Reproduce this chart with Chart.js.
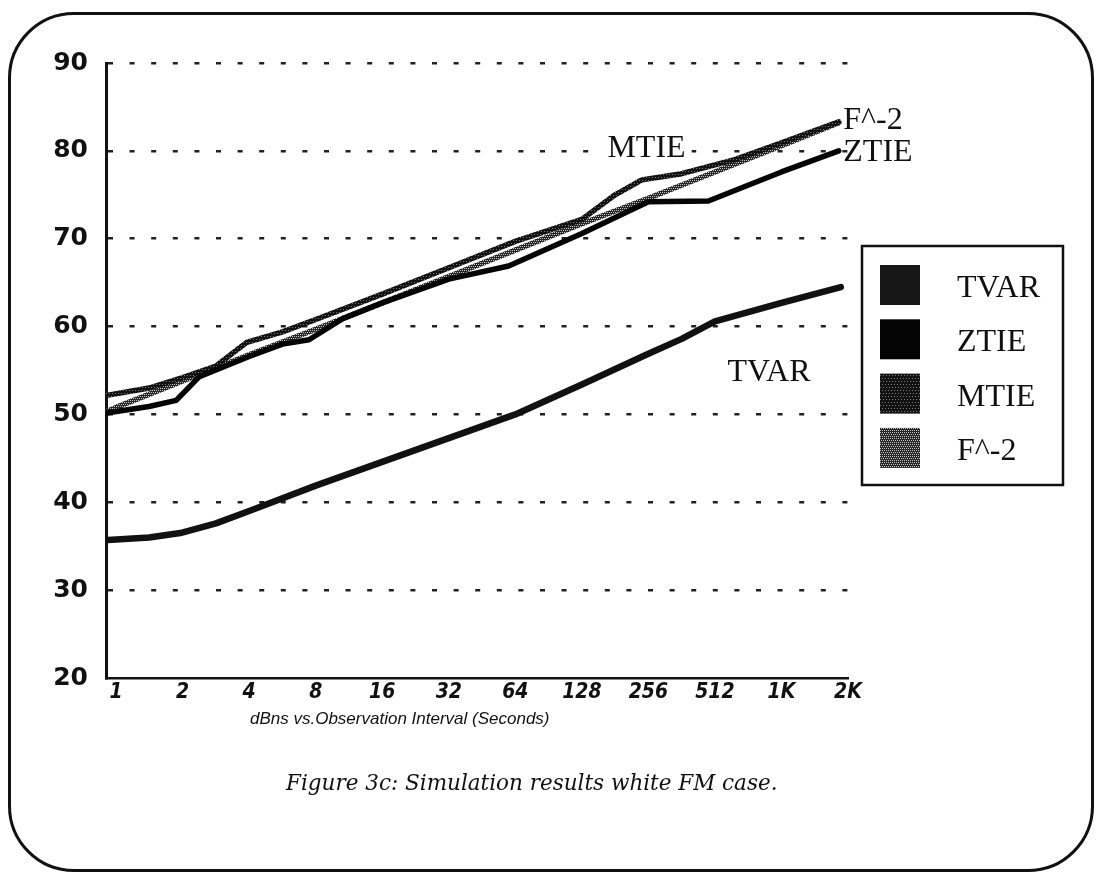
<!DOCTYPE html>
<html>
<head>
<meta charset="utf-8">
<script src="https://cdn.jsdelivr.net/npm/chart.js@4.4.1/dist/chart.umd.min.js"></script>
<style>
  html, body { margin: 0; padding: 0; background: #fff; }
  body { width: 1101px; height: 875px; position: relative; overflow: hidden; }
  #frame {
    position: absolute; left: 8px; top: 12px; width: 1086px; height: 860px;
    box-sizing: border-box; border: 3px solid #111; border-radius: 66px;
  }
  #fig { position: absolute; left: 0; top: 0; }
</style>
</head>
<body>
<div id="frame"></div>
<canvas id="fig" width="1101" height="875"></canvas>
<script>
// observation interval (s) on a log2 axis
const xTicks = [1, 2, 4, 8, 16, 32, 64, 128, 256, 512, 1024, 2048];
const xLabels = ['1', '2', '4', '8', '16', '32', '64', '128', '256', '512', '1K', '2K'];
const yTicks = [20, 30, 40, 50, 60, 70, 80, 90];

// values (dBns)
const tvarT  = [0.92, 1.41, 1.95, 2.83, 4, 8, 16, 32, 64, 128, 256, 362, 512, 1024, 1900];
const tvarDb = [35.7, 36.0, 36.5, 37.6, 39.0, 41.9, 44.6, 47.3, 50.0, 53.4, 56.9, 58.6, 60.6, 62.7, 64.5];

const ztieT  = [0.92, 1.41, 1.87, 2.38, 4, 5.66, 7.46, 10.6, 16, 32, 59.7, 128, 256, 478, 1024, 1860];
const ztieDb = [50.2, 50.9, 51.6, 54.3, 56.6, 58.0, 58.5, 60.9, 62.7, 65.4, 66.9, 70.6, 74.2, 74.3, 77.6, 80.0];

const mtieT  = [0.92, 1.41, 2, 2.83, 3.03, 3.9, 5.66, 8, 16, 32, 64, 128, 181, 239, 362, 630, 1024, 1860];
const mtieDb = [52.2, 53.0, 54.2, 55.5, 56.1, 58.2, 59.4, 60.8, 63.7, 66.7, 69.7, 72.2, 75.0, 76.7, 77.4, 79.0, 80.9, 83.3];

const fm2T  = [0.92, 1, 2, 4, 8, 16, 32, 64, 128, 256, 512, 1024, 1860];
const fm2Db = [50.4, 50.8, 53.8, 56.8, 59.7, 62.7, 65.7, 68.7, 71.7, 74.6, 77.6, 80.6, 83.2];

const seriesNames = ['TVAR', 'ZTIE', 'MTIE', 'F^-2'];

// text labels next to the curves, anchored in data units
const curveNotes = [
  { text: 'MTIE', t: 167, db: 79.3, knockout: true },
  { text: 'F^-2', t: 1950, db: 82.5 },
  { text: 'ZTIE', t: 1950, db: 78.9 },
  { text: 'TVAR', t: 584, db: 53.8 }
];
const axisTitle = 'dBns vs.Observation Interval (Seconds)';
const caption = 'Figure 3c: Simulation results white FM case.';

function speckle(base, dot, step) {
  const c = document.createElement('canvas');
  c.width = c.height = 6;
  const g = c.getContext('2d');
  g.fillStyle = base;
  g.fillRect(0, 0, 6, 6);
  g.fillStyle = dot;
  for (let r = 0; r < 6; r += step) {
    for (let col = (r / step) % 2; col < 6; col += step) g.fillRect(col, r, 1, 1);
  }
  return g.createPattern(c, 'repeat');
}

const ctx = document.getElementById('fig').getContext('2d');
const mtieFill = speckle('#121212', '#7a7a7a', 3);
const fm2Fill = speckle('#262626', '#c4c4c4', 2);
const seriesStyle = [
  { color: '#111', swatch: '#171717', width: 6.5 },
  { color: '#050505', swatch: '#050505', width: 5.5 },
  { color: mtieFill, swatch: mtieFill, width: 5.5 },
  { color: fm2Fill, swatch: fm2Fill, width: 5.5 }
];

const toPoints = (ts, vs) => ts.map((t, i) => ({ x: t, y: vs[i] }));
const seriesData = [
  toPoints(tvarT, tvarDb),
  toPoints(ztieT, ztieDb),
  toPoints(mtieT, mtieDb),
  toPoints(fm2T, fm2Db)
];

const serifFont = '"Liberation Serif", "Times New Roman", serif';

const figureText = {
  id: 'figureText',
  afterDraw(chart) {
    const { ctx, scales: { x, y } } = chart;
    ctx.save();
    ctx.textAlign = 'left';
    ctx.textBaseline = 'alphabetic';

    // curve labels
    ctx.font = '32px ' + serifFont;
    curveNotes.forEach(n => {
      const px = x.getPixelForValue(n.t);
      const py = y.getPixelForValue(n.db);
      if (n.knockout) {
        const w = ctx.measureText(n.text).width;
        ctx.fillStyle = '#fff';
        ctx.fillRect(px - 6, py - 24, w + 12, 26);
      }
      ctx.fillStyle = '#111';
      ctx.fillText(n.text, px, py);
    });

    // legend box
    const lx = 862, ly = 246;
    ctx.lineWidth = 2.5;
    ctx.strokeStyle = '#111';
    ctx.strokeRect(lx, ly, 201, 239);
    seriesNames.forEach((name, i) => {
      const top = 265 + i * 54.3;
      ctx.fillStyle = seriesStyle[i].swatch;
      ctx.fillRect(880, top, 40, 40);
      ctx.fillStyle = '#111';
      ctx.fillText(name, 957, top + 32);
    });

    // axis title and caption
    ctx.font = 'italic 17px "Liberation Sans", Arial, sans-serif';
    ctx.fillText(axisTitle, 250, 724);
    ctx.font = 'italic 21.5px "DejaVu Serif", serif';
    ctx.fillText(caption, 286, 790);
    ctx.restore();
  }
};

new Chart(ctx, {
  type: 'line',
  data: {
    datasets: seriesNames.map((name, i) => ({
      label: name,
      data: seriesData[i],
      borderColor: seriesStyle[i].color,
      borderWidth: seriesStyle[i].width,
      pointRadius: 0,
      tension: 0,
      fill: false,
      borderCapStyle: 'round',
      borderJoinStyle: 'round'
    }))
  },
  options: {
    responsive: false,
    animation: false,
    layout: { padding: { left: 20, right: 253, top: 63, bottom: 157 } },
    plugins: { legend: { display: false }, tooltip: { enabled: false } },
    scales: {
      x: {
        type: 'logarithmic',
        min: 0.9,
        max: 2048,
        afterBuildTicks: s => { s.ticks = xTicks.map(v => ({ value: v })); },
        afterFit: s => { s.height = 40; },
        grid: { display: false, drawTicks: false },
        border: { display: true, color: '#111', width: 2.5 },
        ticks: {
          autoSkip: false,
          maxRotation: 0,
          padding: 2,
          color: '#111',
          font: { family: '"Liberation Sans Narrow", "DejaVu Sans Condensed", "Liberation Sans", Arial, sans-serif', size: 21, style: 'italic', weight: 'bold' },
          callback: (v, i) => xLabels[i]
        }
      },
      y: {
        type: 'linear',
        min: 20,
        max: 90,
        afterBuildTicks: s => { s.ticks = yTicks.map(v => ({ value: v })); },
        afterFit: s => { s.width = 86; },
        grid: {
          drawTicks: false,
          lineWidth: 2.5,
          color: c => (c.tick && c.tick.value === 20) ? 'rgba(0,0,0,0)' : '#222'
        },
        border: { display: true, color: '#111', width: 3, dash: [5, 16.6] },
        ticks: {
          padding: 18,
          color: '#111',
          font: { family: '"DejaVu Sans", sans-serif', size: 25, weight: 'bold' }
        }
      }
    }
  },
  plugins: [figureText]
});
</script>
</body>
</html>
